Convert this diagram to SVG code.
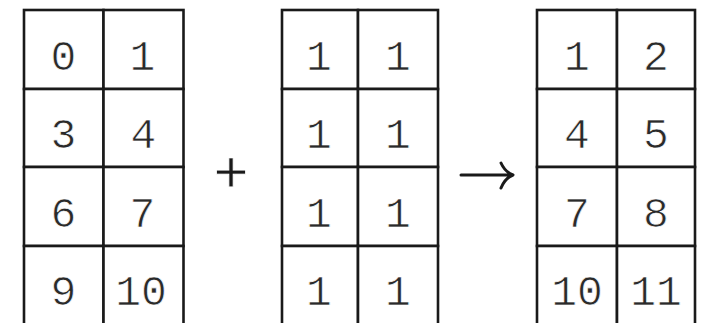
<svg xmlns="http://www.w3.org/2000/svg" width="707" height="323" viewBox="0 0 707 323">
<style>
.cell{fill:#fff;stroke:#1a1a1a;stroke-width:2.6}
.num{font-family:"Liberation Mono","Courier New",monospace;font-size:43px;fill:#2a2a2a;stroke:#fff;stroke-width:0.7;text-anchor:middle}
.op{font-family:"Liberation Sans",Arial,sans-serif;font-size:60px;fill:#1a1a1a;stroke:#fff;stroke-width:0.8;text-anchor:middle}
.arrow{fill:none;stroke:#1a1a1a;stroke-width:3;stroke-linecap:round;stroke-linejoin:round}
</style>
<rect width="707" height="323" fill="#fff"/>
<g id="matrixA">
<rect class="cell" x="24" y="10" width="79.5" height="79"/>
<rect class="cell" x="103.5" y="10" width="80" height="79"/>
<rect class="cell" x="24" y="89" width="79.5" height="78"/>
<rect class="cell" x="103.5" y="89" width="80" height="78"/>
<rect class="cell" x="24" y="167" width="79.5" height="79"/>
<rect class="cell" x="103.5" y="167" width="80" height="79"/>
<rect class="cell" x="24" y="246" width="79.5" height="90"/>
<rect class="cell" x="103.5" y="246" width="80" height="90"/>
<text class="num" x="63.5" y="70">0</text>
<text class="num" x="142.5" y="70">1</text>
<text class="num" x="63.5" y="148">3</text>
<text class="num" x="143.5" y="148">4</text>
<text class="num" x="63.5" y="227">6</text>
<text class="num" x="142.5" y="227">7</text>
<text class="num" x="63.5" y="305">9</text>
<text class="num" x="141" y="305">10</text>
</g>
<g id="plus">
<text class="op" x="231" y="192">+</text>
</g>
<g id="matrixB">
<rect class="cell" x="282" y="10" width="76" height="79"/>
<rect class="cell" x="358" y="10" width="80" height="79"/>
<rect class="cell" x="282" y="89" width="76" height="78"/>
<rect class="cell" x="358" y="89" width="80" height="78"/>
<rect class="cell" x="282" y="167" width="76" height="79"/>
<rect class="cell" x="358" y="167" width="80" height="79"/>
<rect class="cell" x="282" y="246" width="76" height="90"/>
<rect class="cell" x="358" y="246" width="80" height="90"/>
<text class="num" x="319" y="70">1</text>
<text class="num" x="398" y="70">1</text>
<text class="num" x="319" y="148">1</text>
<text class="num" x="398" y="148">1</text>
<text class="num" x="319" y="227">1</text>
<text class="num" x="398" y="227">1</text>
<text class="num" x="319" y="305">1</text>
<text class="num" x="398" y="305">1</text>
</g>
<g id="connectors">
<path class="arrow" d="M461 175 H512 M501 163 Q505 172 513 175 Q505 178 501 188"/>
</g>
<g id="matrixC">
<rect class="cell" x="537" y="10" width="80" height="79"/>
<rect class="cell" x="617" y="10" width="78" height="79"/>
<rect class="cell" x="537" y="89" width="80" height="78"/>
<rect class="cell" x="617" y="89" width="78" height="78"/>
<rect class="cell" x="537" y="167" width="80" height="79"/>
<rect class="cell" x="617" y="167" width="78" height="79"/>
<rect class="cell" x="537" y="246" width="80" height="90"/>
<rect class="cell" x="617" y="246" width="78" height="90"/>
<text class="num" x="577" y="70">1</text>
<text class="num" x="656" y="70">2</text>
<text class="num" x="577" y="148">4</text>
<text class="num" x="656" y="148">5</text>
<text class="num" x="577" y="227">7</text>
<text class="num" x="656" y="227">8</text>
<text class="num" x="577" y="305">10</text>
<text class="num" x="656" y="305">11</text>
</g>
</svg>
